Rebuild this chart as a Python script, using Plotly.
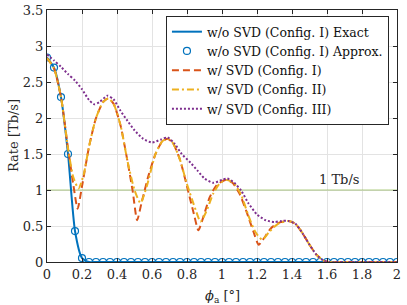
import plotly.graph_objects as go

# Angle grid for w/o SVD (Config. I) markers (every 0.04 deg)
phi_exact = [round(0.04 * i, 2) for i in range(51)]
rate_exact = [2.84, 2.70, 2.29, 1.50, 0.43, 0.055] + [0.0] * 45

# w/ SVD (Config. I)
phi_c1 = [0, 0.04, 0.08, 0.12, 0.15, 0.175, 0.20, 0.24, 0.28, 0.32, 0.35, 0.38, 0.42, 0.46, 0.49, 0.515,
          0.54, 0.58, 0.62, 0.66, 0.69, 0.72, 0.76, 0.80, 0.84, 0.865, 0.89, 0.93, 0.97, 1.02, 1.06, 1.10,
          1.14, 1.18, 1.21, 1.24, 1.28, 1.33, 1.38, 1.42, 1.46, 1.50, 1.54, 1.58, 1.61, 1.7, 1.8, 1.9, 2.0]
rate_c1 = [2.83, 2.69, 2.29, 1.58, 1.08, 0.74, 1.05, 1.60, 2.00, 2.22, 2.27, 2.20, 1.90, 1.40, 0.98, 0.58,
           0.82, 1.20, 1.50, 1.68, 1.71, 1.65, 1.42, 1.05, 0.66, 0.44, 0.60, 0.90, 1.07, 1.14, 1.10, 0.95,
           0.70, 0.42, 0.24, 0.33, 0.47, 0.55, 0.57, 0.53, 0.40, 0.24, 0.10, 0.02, 0.0, 0.0, 0.0, 0.0, 0.0]

# w/ SVD (Config. II)
phi_c2 = [0, 0.04, 0.08, 0.12, 0.15, 0.18, 0.21, 0.24, 0.28, 0.32, 0.35, 0.38, 0.42, 0.46, 0.50, 0.534,
          0.57, 0.62, 0.66, 0.69, 0.72, 0.76, 0.80, 0.85, 0.877, 0.91, 0.95, 0.99, 1.03, 1.07, 1.11,
          1.15, 1.19, 1.23, 1.27, 1.32, 1.38, 1.42, 1.46, 1.50, 1.54, 1.58, 1.61, 1.7, 1.8, 1.9, 2.0]
rate_c2 = [2.83, 2.69, 2.29, 1.58, 1.18, 1.02, 1.22, 1.60, 2.00, 2.22, 2.27, 2.20, 1.90, 1.40, 1.00, 0.82,
           1.05, 1.50, 1.68, 1.71, 1.65, 1.42, 1.08, 0.72, 0.56, 0.70, 0.95, 1.10, 1.14, 1.09, 0.93,
           0.65, 0.42, 0.31, 0.42, 0.53, 0.57, 0.53, 0.40, 0.24, 0.10, 0.02, 0.0, 0.0, 0.0, 0.0, 0.0]

# w/ SVD (Config. III)
phi_c3 = [0, 0.04, 0.08, 0.12, 0.16, 0.20, 0.24, 0.27, 0.30, 0.345, 0.38, 0.42, 0.46, 0.50, 0.55, 0.60,
          0.65, 0.69, 0.73, 0.77, 0.82, 0.86, 0.90, 0.95, 1.00, 1.03, 1.07, 1.11, 1.15, 1.20, 1.25, 1.30,
          1.34, 1.38, 1.42, 1.46, 1.50, 1.54, 1.58, 1.61, 1.7, 1.8, 1.9, 2.0]
rate_c3 = [2.88, 2.80, 2.71, 2.61, 2.52, 2.40, 2.25, 2.19, 2.22, 2.31, 2.26, 2.10, 1.96, 1.83, 1.71, 1.66,
           1.70, 1.73, 1.64, 1.50, 1.38, 1.27, 1.16, 1.10, 1.14, 1.16, 1.10, 0.99, 0.82, 0.66, 0.58, 0.555,
           0.57, 0.57, 0.53, 0.40, 0.24, 0.10, 0.02, 0.0, 0.0, 0.0, 0.0, 0.0]

threshold = 1.0
threshold_label = "1 Tb/s"
x_ticks = [0, 0.2, 0.4, 0.6, 0.8, 1, 1.2, 1.4, 1.6, 1.8, 2]
x_tick_labels = ["0", "0.2", "0.4", "0.6", "0.8", "1", "1.2", "1.4", "1.6", "1.8", "2"]
y_ticks = [0, 0.5, 1, 1.5, 2, 2.5, 3, 3.5]
y_tick_labels = ["0", "0.5", "1", "1.5", "2", "2.5", "3", "3.5"]

FONT = "DejaVu Serif"
TXT = "#262626"
fig = go.Figure()

fig.add_trace(go.Scatter(x=[0, 2], y=[threshold, threshold], mode="lines",
                         line=dict(color="rgba(119,172,48,0.4)", width=1.5),
                         showlegend=False, hoverinfo="skip"))
fig.add_trace(go.Scatter(x=phi_exact, y=rate_exact, mode="lines", name="w/o SVD (Config. I) Exact",
                         line=dict(color="#0072BD", width=2, shape="spline", smoothing=0.6)))
fig.add_trace(go.Scatter(x=phi_exact, y=rate_exact, mode="markers", name="w/o SVD (Config. I) Approx.",
                         marker=dict(symbol="circle-open", size=7, color="#0072BD", line=dict(width=1.2))))
fig.add_trace(go.Scatter(x=phi_c1, y=rate_c1, mode="lines", name="w/ SVD (Config. I)",
                         line=dict(color="#D95319", width=2, dash="7px,4px", shape="spline", smoothing=0.6)))
fig.add_trace(go.Scatter(x=phi_c2, y=rate_c2, mode="lines", name="w/ SVD (Config. II)",
                         line=dict(color="#EDB120", width=2, dash="7px,3px,2px,3px", shape="spline", smoothing=0.6)))
fig.add_trace(go.Scatter(x=phi_c3, y=rate_c3, mode="lines", name="w/ SVD (Config. III)",
                         line=dict(color="#7E2F8E", width=2, dash="2px,2px", shape="spline", smoothing=0.6)))

fig.add_annotation(x=1.67, y=1.15, text=threshold_label, showarrow=False,
                   font=dict(family=FONT, size=13, color=TXT))

# axis titles as annotations for exact placement
fig.add_annotation(x=0.5, y=0, xref="paper", yref="paper", yanchor="middle", yshift=-34,
                   text="<i>ϕ</i><sub>a</sub> [°]", showarrow=False,
                   font=dict(family=FONT, size=13, color=TXT))
fig.add_annotation(x=0, y=0.5, xref="paper", yref="paper", xanchor="center", xshift=-34,
                   text="Rate [Tb/s]", textangle=-90, showarrow=False,
                   font=dict(family=FONT, size=13, color=TXT))

axis_common = dict(showline=True, linecolor=TXT, linewidth=1, mirror="ticks",
                   ticks="inside", ticklen=4, tickcolor=TXT,
                   showgrid=True, gridcolor="#E3E3E3", gridwidth=1, zeroline=False,
                   automargin=False,
                   tickfont=dict(family=FONT, size=13, color=TXT))

fig.update_xaxes(range=[0, 2], tickvals=x_ticks, ticktext=x_tick_labels, **axis_common)
fig.update_yaxes(range=[0, 3.5], tickvals=y_ticks, ticktext=y_tick_labels, **axis_common)

fig.update_layout(
    width=407, height=305,
    margin=dict(l=46.5, r=10, t=10, b=43),
    plot_bgcolor="white", paper_bgcolor="white",
    font=dict(family=FONT, size=13, color=TXT),
    legend=dict(x=0.977, y=0.976, xanchor="right", yanchor="top",
                bgcolor="white", bordercolor=TXT, borderwidth=1,
                font=dict(family=FONT, size=12.5, color="#111"),
                itemwidth=30, tracegroupgap=0),
    showlegend=True,
)

fig.write_html("out.html", config={"displayModeBar": False},
               post_script="document.body.style.margin='0';")
